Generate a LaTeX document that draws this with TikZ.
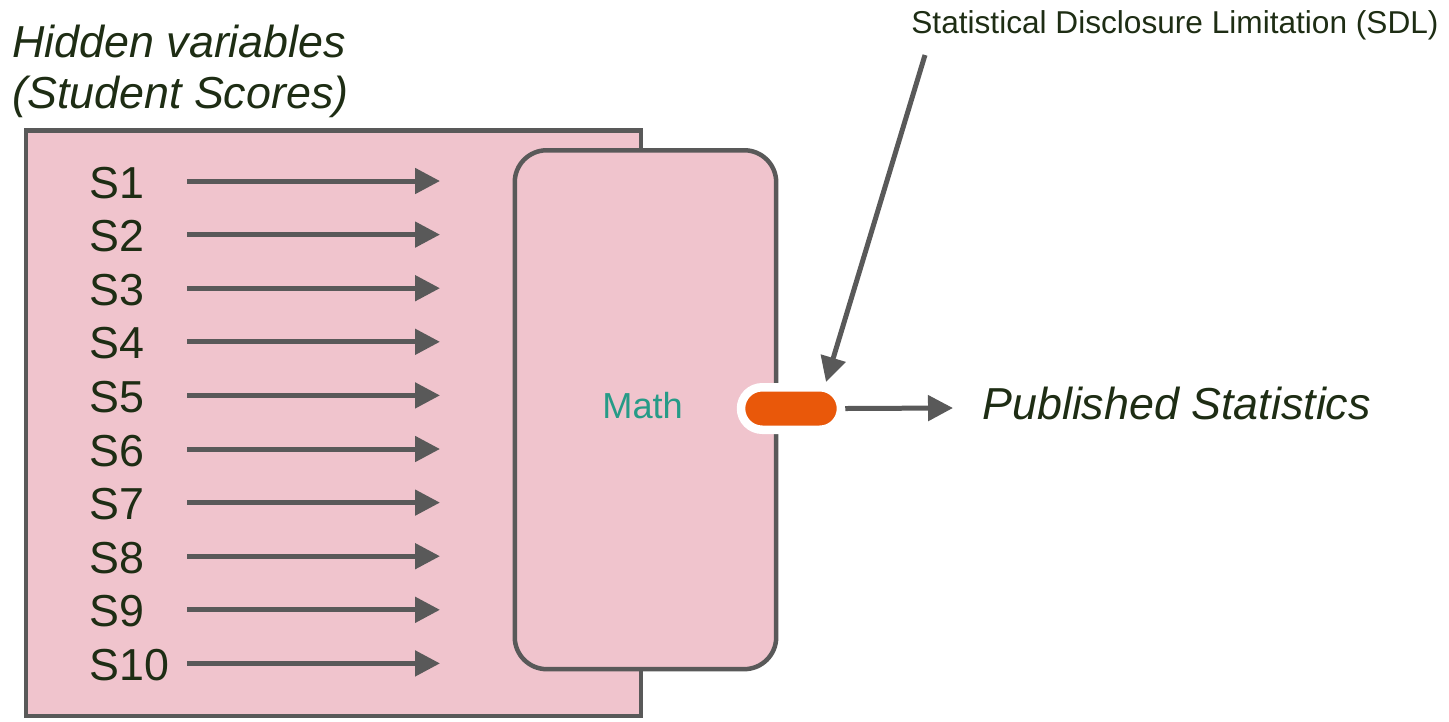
\documentclass[tikz,border=0pt]{standalone}
\usepackage{fontspec}
\setmainfont{Liberation Sans}
\usetikzlibrary{arrows.meta,shadows,shapes.misc}
\definecolor{pinkfill}{RGB}{240,196,205}
\definecolor{linegray}{RGB}{89,89,89}
\definecolor{txtgreen}{RGB}{30,45,20}
\definecolor{mathteal}{RGB}{38,155,135}
\definecolor{sdlorange}{RGB}{233,88,10}
\begin{document}
\begin{tikzpicture}[x=0.02cm,y=-0.02cm,
  arr/.style={draw=linegray, line width=0.1cm, -{Triangle[length=0.5cm,width=0.5cm]}},
  panel/.style={draw=linegray, fill=pinkfill, line width=0.09cm, inner sep=0pt, anchor=north west},
  lbl/.style={anchor=base west, inner sep=0pt, text=txtgreen},
  big/.style={font=\fontsize{25.5}{28}\selectfont},
  bigit/.style={font=\fontsize{25.5}{28}\selectfont\itshape},
  pillstyle/.style={rounded rectangle, fill=sdlorange, draw=white, line width=0.17cm,
    minimum width=2cm, minimum height=0.85cm, inner sep=0pt,
    drop shadow={opacity=0.25, shadow xshift=0.5pt, shadow yshift=-1pt}}]
\useasboundingbox (0,0) rectangle (1449,721);
% panels
\node[panel, minimum width=12.3cm, minimum height=11.72cm] (outer) at (24,128) {};
\node[panel, rounded corners=0.64cm, minimum width=5.23cm, minimum height=10.38cm] (inner) at (512.5,148) {};
\node[lbl, font=\fontsize{20.6}{24}\selectfont, text=mathteal] (math) at (602,418) {Math};
% headings
\node[lbl, bigit] (hid1) at (12,57) {Hidden variables};
\node[lbl, bigit] (hid2) at (12,108) {(Student Scores)};
% score rows
\foreach \i in {1,...,10} {
  \pgfmathsetmacro\yb{198+53.6*(\i-1)}
  \pgfmathsetmacro\ya{\yb-17}
  \node[lbl, big] (s\i) at (89,\yb) {S\i};
  \coordinate (as\i) at (187,\ya);
  \coordinate (ae\i) at (440,\ya);
  \draw[arr] (as\i) -- (ae\i);
}
% SDL pill
\node[pillstyle] (pill) at (791,408.5) {};
\node[lbl, font=\fontsize{18}{22}\selectfont] (sdl) at (911,33) {Statistical Disclosure Limitation (SDL)};
\coordinate (sdlstart) at (925,55);
\coordinate (sdlend) at (826,382);
\draw[arr] (sdlstart) -- (sdlend);
% output
\node[lbl, bigit] (pub) at (982,419) {Published Statistics};
\coordinate (pubarr) at (953,408);
\draw[arr] (pill.east) -- (pubarr);
\end{tikzpicture}
\end{document}
